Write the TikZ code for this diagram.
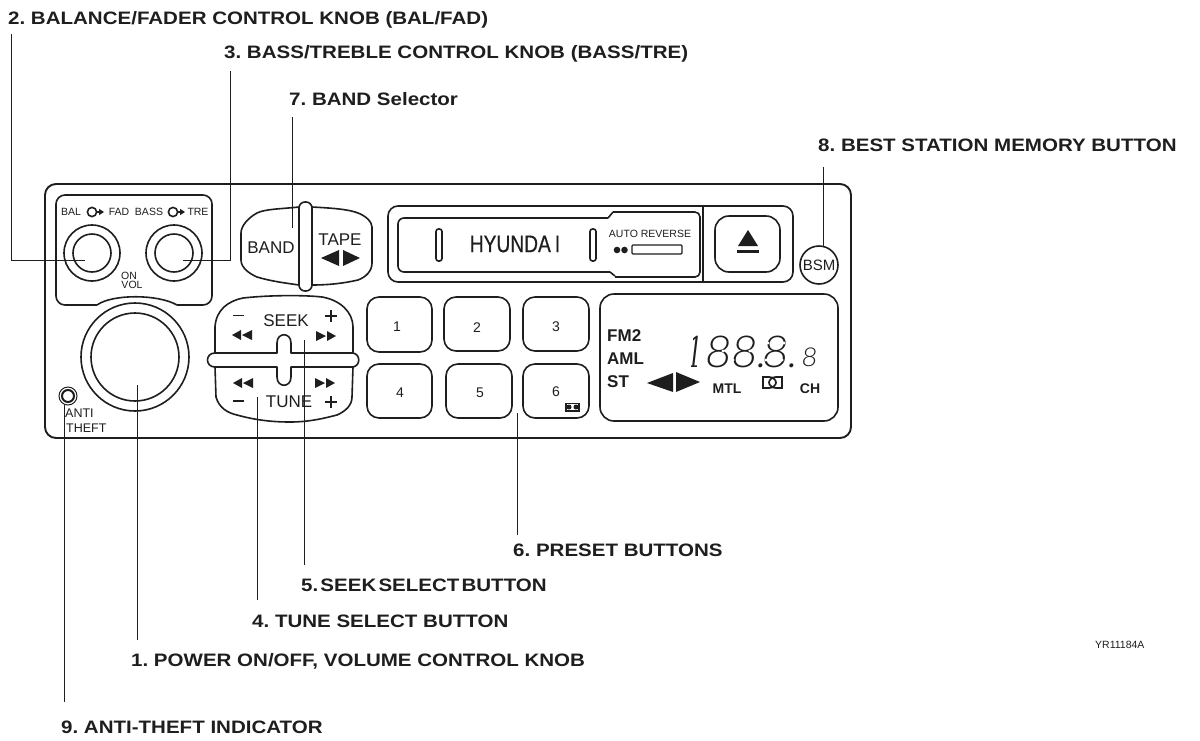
\documentclass[tikz,border=0pt]{standalone}
\usepackage{fontspec}
\setmainfont{Liberation Sans}
\newfontfamily\labf[FakeStretch=1.14]{Liberation Sans Bold}
\newfontfamily\lcdf[FakeSlant=0.12]{Lato Light}
\newfontfamily\hyuf[FakeStretch=0.8,FakeBold=0.5]{Liberation Sans}
\usetikzlibrary{calc}
\definecolor{ink}{HTML}{1E1E1E}
\tikzset{
 lab/.style={anchor=base west,inner sep=0,font=\labf\frenchspacing\fontsize{18}{20}\selectfont,text=ink},
 lead/.style={draw=ink,line width=0.7pt},
 ol/.style={draw=ink,line width=1.6pt,line join=round},
 thinl/.style={draw=ink,line width=1.1pt},
 face/.style={inner sep=0,text=ink},
 btn/.style={ol,fill=white,rounded corners=12pt},
 smalltext/.style={face,font=\fontsize{10.5}{11}\selectfont},
 disptext/.style={face,anchor=west,font=\bfseries\fontsize{17}{18}\selectfont},
 disptextb/.style={face,font=\bfseries\fontsize{14}{15}\selectfont},
 cut/.style={fill=white,draw=none},
}
\newcommand{\dbll}[2]{\fill[ink] (#1,#2) -- ++(9,-5) -- ++(0,10) -- cycle; \fill[ink] ($(#1,#2)+(10,0)$) -- ++(10,-5) -- ++(0,10) -- cycle;}
\newcommand{\dblr}[2]{\fill[ink] (#1,#2) -- ++(-9,-5) -- ++(0,10) -- cycle; \fill[ink] ($(#1,#2)+(-10,0)$) -- ++(-10,-5) -- ++(0,10) -- cycle;}
\newcommand{\segcuts}[1]{\foreach \px/\py in {0/343,16/343,-1/351,15/351,-2/360,14/360}{\fill[cut] (#1+\px,\py) circle (1.7);}}
\begin{document}
\begin{tikzpicture}[x=1pt,y=-1pt]
\useasboundingbox[fill=white] (0,0) rectangle (1200,740);
% panel
\draw[ol,line width=1.9pt,rounded corners=11pt] (45,184) rectangle (851,438);
% bal box
\draw[ol,rounded corners=9pt] (97,305) -- (56,305) -- (56,195) -- (212,195) -- (212,305) -- (177,305);
\draw[ol] (97,305) .. controls (112,294) and (158,294) .. (177,305);
% knobs
\foreach \n/\cx in {balk/92,bassk/174}{
 \coordinate (\n) at (\cx,253);
 \draw[ol] (\n) circle (28);
 \draw[ol] (\n) circle (19);
}
\coordinate (volk) at (135,357);
\draw[ol] (volk) circle (54);
\draw[ol] (volk) circle (44);
\foreach \n/\cx in {a/92,b/173}{
 \draw[ol,line width=1.6pt] (\cx,212) circle (4.6);
 \fill[ink] (\cx+4,210.6) rectangle (\cx+8,213.4);
 \fill[ink] (\cx+7,208.8) -- (\cx+12,212) -- (\cx+7,215.2) -- cycle;
}
\node[smalltext] (tbal) at (71,212) {BAL};
\node[smalltext] (tfad) at (119,212) {FAD};
\node[smalltext] (tbass) at (149,212) {BASS};
\node[smalltext] (ttre) at (198,212) {TRE};
\node[smalltext] (ton) at (129,276) {ON};
\node[smalltext] (tvol) at (132,285) {VOL};
% anti theft
\coordinate (anti) at (68,396);
\draw[ink,line width=1pt] (anti) circle (9);
\draw[ink,line width=2pt] (anti) circle (6);
\node[smalltext,font=\fontsize{12.5}{13}\selectfont,anchor=west] (tanti) at (65,413) {ANTI};
\node[smalltext,font=\fontsize{12.5}{13}\selectfont,anchor=west] (ttheft) at (66,428) {THEFT};
% band / tape
\draw[ol,fill=white] (299,207) .. controls (280,209) and (265,209) .. (257,213) .. controls (248,218) and (241,226) .. (241,233) -- (241,260) .. controls (241,268) and (250,274) .. (257,277) .. controls (270,281) and (285,283) .. (299,285) -- cycle;
\draw[ol,fill=white] (312,207) .. controls (330,208) and (348,209) .. (358,213) .. controls (366,216) and (372,222) .. (372,227) -- (372,263) .. controls (372,271) and (366,277) .. (358,280) .. controls (345,283) and (330,285) .. (312,285) -- cycle;
\draw[ol,fill=white,rounded corners=6pt] (299,202) rectangle (312,291);
\node[face,font=\fontsize{17}{18}\selectfont] (tband) at (271,248) {BAND};
\node[face,font=\fontsize{17}{18}\selectfont] (ttape) at (340,240) {TAPE};
\fill[ink] (321,258) -- (339,250) -- (339,266) -- cycle;
\fill[ink] (360,258) -- (343,250) -- (343,266) -- cycle;
% seek/tune
\draw[ol,fill=white] (215,353) -- (215,327) .. controls (216,310) and (228,301) .. (243,298) .. controls (270,295) and (305,295) .. (322,297) .. controls (340,300) and (353,312) .. (353,327) -- (353,353);
\draw[ol,fill=white] (215,367) -- (216,397) .. controls (219,408) and (228,413) .. (237,415) .. controls (255,420) and (272,422) .. (290,422) .. controls (310,422) and (325,418) .. (337,415) .. controls (346,411) and (352,405) .. (352,397) -- (353,367);
\draw[ol,fill=white,line join=round] (215,353) -- (277,353) -- (277,343) .. controls (277,332) and (291,332) .. (291,343) -- (291,353) -- (352,353) .. controls (361,353) and (361,367) .. (352,367) -- (291,367) -- (291,377) .. controls (291,388) and (277,388) .. (277,377) -- (277,367) -- (215,367) .. controls (205,367) and (205,353) .. (215,353) -- cycle;
\node[face,font=\fontsize{17}{18}\selectfont] (tseek) at (286,321) {SEEK};
\node[face,font=\fontsize{17}{18}\selectfont] (ttune) at (289,402) {TUNE};
\fill[ink] (232.5,314.8) rectangle (244,316.2);
\fill[ink] (233,400.3) rectangle (244,402);
\foreach \y in {316,402}{\fill[ink] (325,\y-0.9) rectangle (337,\y+0.9); \fill[ink] (330.1,\y-6) rectangle (331.9,\y+6);}
\dbll{232}{335}\dblr{336}{336}\dbll{233}{383}\dblr{335}{383}
% cassette
\draw[ol,rounded corners=10pt] (388,206) rectangle (793,282);
\draw[ol,rounded corners=6pt] (608,218) -- (398,218) -- (398,272) -- (610,272);
\draw[ol] (608,218) -- (613,212);
\draw[ol] (610,272) -- (615,276);
\draw[ol,rounded corners=5pt] (613,212) -- (700,212) -- (700,277) -- (615,277);
\draw[thinl] (703,207) -- (703,281);
\draw[ol,rounded corners=14pt] (715,216) rectangle (780,272);
\fill[ink] (748,230) -- (758,246) -- (738,246) -- cycle;
\fill[ink] (737,249.5) rectangle (759,253);
\draw[ol,rounded corners=2.5pt] (436,229) rectangle (442,261);
\draw[ol,rounded corners=2.5pt] (590,229) rectangle (596,261);
\node[face,font=\hyuf\fontsize{24}{25}\selectfont] (thyu) at (515,244) {HYUNDA\,I};
\node[face,font=\fontsize{10.5}{11}\selectfont] (tauto) at (650,234) {AUTO REVERSE};
\fill[ink] (617,250) circle (3.3);
\fill[ink] (624.5,250) circle (3.3);
\draw[thinl,rounded corners=1pt] (632,245) rectangle (682,254);
% BSM
\node[draw=ink,line width=1.6pt,circle,minimum size=38pt,inner sep=0,font=\fontsize{15}{16}\selectfont,text=ink] (bsm) at (819,265) {BSM};
% presets
\foreach \n/\xa/\xb/\ya/\yb in {p1/367/432/297/352,p2/444/510/297/351,p3/523/589/297/351,p4/367/432/364/418,p5/446/512/364/418,p6/523/589/364/418}{
 \draw[btn] (\xa,\ya) rectangle (\xb,\yb);
}
\foreach \n/\x/\y in {1/397/327,2/477/328,3/556/327,4/400/393,5/480/393,6/556/392}{
 \node[face,font=\fontsize{14}{15}\selectfont] (num\n) at (\x,\y) {\n};
}
\draw[ink,line width=1.5pt] (566,403.5) rectangle (579,411);
\fill[ink] (569,407) circle (2.5) (576,407) circle (2.5);
% display
\draw[ol,rounded corners=14pt] (600,294) rectangle (838,421);
\node[disptext] (tfm) at (607,336) {FM2};
\node[disptext] (taml) at (607,359) {AML};
\node[disptext] (tst) at (607,382) {ST};
\fill[ink] (647,383) -- (673,373) -- (673,392) -- cycle;
\fill[ink] (700,382) -- (676,372) -- (676,392) -- cycle;
\node[disptextb] (tmtl) at (727,389) {MTL};
\node[disptextb] (tch) at (810,389) {CH};
\draw[ink,line width=1.7pt] (763,377) -- (769,377) .. controls (773,377) and (776,380) .. (776,382.5) .. controls (776,385) and (773,388) .. (769,388) -- (763,388) -- cycle;
\draw[ink,line width=1.7pt] (782,377) -- (776,377) .. controls (772,377) and (769,380) .. (769,382.5) .. controls (769,385) and (772,388) .. (776,388) -- (782,388) -- cycle;
\node[face,anchor=base west,font=\lcdf\fontsize{44}{44}\selectfont] (tlcd) at (679,367) {188.\kern-5pt 8.};
\fill[cut] (680,361) rectangle (691,369);
\fill[cut] (697,361) rectangle (706,369);
\fill[cut] (680,333) rectangle (693,349);
\segcuts{708}\segcuts{735}\segcuts{768}
\node[face,anchor=base west,font=\lcdf\fontsize{26}{26}\selectfont] (tlcd2) at (801,366) {8};
% labels
\node[lab] (l2) at (8,24) {2. BALANCE/FADER CONTROL KNOB (BAL/FAD)};
\node[lab] (l3) at (224,58) {3. BASS/TREBLE CONTROL KNOB (BASS/TRE)};
\node[lab] (l7) at (289,105) {7. BAND Selector};
\node[lab] (l8) at (818,151) {8. BEST STATION MEMORY BUTTON};
\node[lab] (l6) at (513,556) {6. PRESET BUTTONS};
\node[lab] (l5) at (301,591) {\spaceskip=0.12em\relax 5. SEEK SELECT BUTTON};
\node[lab] (l4) at (252,627) {4. TUNE SELECT BUTTON};
\node[lab] (l1) at (131,666) {1. POWER ON/OFF, VOLUME CONTROL KNOB};
\node[lab] (l9) at (61,733) {9. ANTI-THEFT INDICATOR};
\node[face,anchor=west,font=\fontsize{10.5}{11}\selectfont] (code) at (1095,645) {YR11184A};
% leaders
\coordinate (e2) at (85,260); \coordinate (e3) at (183,260);
\coordinate (s2) at (11,34); \coordinate (s3) at (230,71);
\coordinate (c2) at (11,260); \coordinate (c3) at (230,260);
\draw[lead] (s2) -- (c2) -- (e2);
\draw[lead] (s3) -- (c3) -- (e3);
\coordinate (s7) at (292,117); \coordinate (e7) at (292,228); \draw[lead] (s7) -- (e7);
\coordinate (s8) at (823,167); \coordinate (e8) at (823,246); \draw[lead] (s8) -- (e8);
\coordinate (s1) at (137,640); \coordinate (e1) at (137,385); \draw[lead] (s1) -- (e1);
\coordinate (s9) at (64.5,702); \coordinate (e9) at (64.5,405); \draw[lead] (s9) -- (e9);
\coordinate (s4) at (257,600); \coordinate (e4) at (257,397); \draw[lead] (s4) -- (e4);
\coordinate (s5) at (304,565); \coordinate (e5) at (304,340); \draw[lead] (s5) -- (e5);
\coordinate (s6) at (517,535); \coordinate (e6) at (517,413); \draw[lead] (s6) -- (e6);
\end{tikzpicture}
\end{document}
